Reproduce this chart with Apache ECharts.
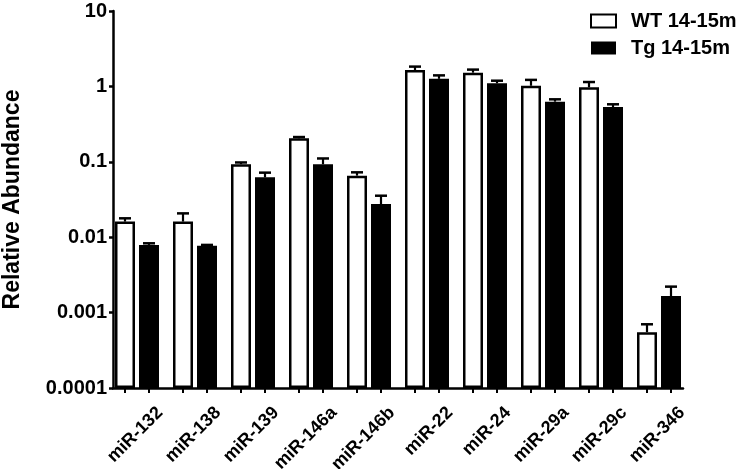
<!DOCTYPE html>
<html>
<head>
<meta charset="utf-8">
<script src="https://cdn.jsdelivr.net/npm/echarts@6/dist/echarts.min.js"></script>
<style>
html,body{margin:0;padding:0;background:#fff;}
#chart{width:740px;height:469px;}
</style>
</head>
<body>
<div id="chart"></div>
<script>
// ---- data ----
const categories = ['miR-132','miR-138','miR-139','miR-146a','miR-146b','miR-22','miR-24','miR-29a','miR-29c','miR-346'];
const seriesNames = ['WT 14-15m','Tg 14-15m'];
const wtMean = [0.0161, 0.0161, 0.093, 0.205, 0.0655, 1.65, 1.52, 1.02, 0.973, 0.00055];
const wtErr  = [0.0017, 0.0046, 0.005, 0.008, 0.007, 0.18, 0.15, 0.20, 0.17, 0.00015];
const tgMean = [0.0079, 0.0077, 0.0622, 0.0927, 0.0275, 1.26, 1.10, 0.627, 0.533, 0.00166];
const tgErr  = [0.0004, 0.0002, 0.0096, 0.018, 0.008, 0.14, 0.09, 0.047, 0.046, 0.00055];
const yTickLabels = ['0.0001','0.001','0.01','0.1','1','10'];
const yTitle = 'Relative Abundance';

// ---- helpers ----
const LOG_MIN = -4;
const toAxis = v => Math.log10(v) - LOG_MIN;
const FONT = "'Liberation Sans', Arial, sans-serif";

function errRenderer(offset) {
  return function (params, api) {
    const i = api.value(0);
    const base = api.coord([i, api.value(1)]);
    const top = api.coord([i, api.value(2)]);
    const bottom = api.coord([i, 0]);
    const x = base[0] + offset;
    return {
      type: 'group',
      children: [
        {type: 'line', shape: {x1: x, y1: base[1], x2: x, y2: top[1]}, style: {stroke: '#000', lineWidth: 2.2}},
        {type: 'line', shape: {x1: x - 6, y1: top[1], x2: x + 6, y2: top[1]}, style: {stroke: '#000', lineWidth: 2.5}},
        {type: 'line', shape: {x1: x, y1: bottom[1], x2: x, y2: bottom[1] + 5}, style: {stroke: '#000', lineWidth: 2}}
      ]
    };
  };
}

const chart = echarts.init(document.getElementById('chart'), null, {renderer: 'canvas'});
const option = {
  animation: false,
  backgroundColor: '#fff',
  textStyle: {fontFamily: FONT},
  legend: {
    orient: 'vertical', left: 585, top: 6,
    itemWidth: 25, itemHeight: 13, itemGap: 7,
    icon: 'rect',
    data: seriesNames,
    textStyle: {fontSize: 20, fontWeight: 'bold', color: '#000', fontFamily: FONT, padding: [0, 0, 0, 10]}
  },
  grid: [
    {left: 113, right: 57, top: 11, bottom: 81, outerBoundsMode: 'none', containLabel: false},
    {left: 108, right: 52, top: 11, bottom: 81, outerBoundsMode: 'none', containLabel: false},
    {left: 131, right: 29, top: 11, bottom: 81, outerBoundsMode: 'none', containLabel: false}
  ],
  xAxis: [
    {gridIndex: 0, type: 'category', data: categories,
     axisLine: {lineStyle: {color: '#000', width: 2.5}}, axisTick: {show: false}, axisLabel: {show: false}},
    {gridIndex: 1, type: 'category', data: categories, show: false},
    {gridIndex: 2, type: 'category', data: categories,
     axisLine: {show: false}, axisTick: {show: false},
     axisLabel: {interval: 0, rotate: 45, margin: 22, fontSize: 18, fontWeight: 'bold', color: '#000', fontFamily: FONT}}
  ],
  yAxis: [
    {gridIndex: 0, type: 'value', min: 0, max: 5, interval: 1,
     axisLine: {show: true, lineStyle: {color: '#000', width: 2.5}},
     axisTick: {show: true, length: 4, lineStyle: {color: '#000', width: 2.5}},
     splitLine: {show: false},
     axisLabel: {margin: 6, fontSize: 20, fontWeight: 'bold', color: '#000', fontFamily: FONT,
                 formatter: v => yTickLabels[Math.round(v)]},
     name: yTitle, nameLocation: 'middle', nameGap: 89, nameRotate: 90,
     nameTextStyle: {fontSize: 23, fontWeight: 'bold', color: '#000', fontFamily: FONT}},
    {gridIndex: 1, type: 'value', min: 0, max: 5, show: false},
    {gridIndex: 2, type: 'value', min: 0, max: 5, show: false}
  ],
  series: [
    {name: seriesNames[0], type: 'bar', xAxisIndex: 1, yAxisIndex: 1,
     barWidth: 20, barGap: '20%',
     itemStyle: {color: '#fff', borderColor: '#000', borderWidth: 2.5},
     data: wtMean.map(toAxis)},
    {name: seriesNames[1], type: 'bar', xAxisIndex: 1, yAxisIndex: 1,
     barWidth: 20, barGap: '20%',
     itemStyle: {color: '#000', borderColor: '#000', borderWidth: 0},
     data: tgMean.map(toAxis)},
    {name: 'WT err', type: 'custom', xAxisIndex: 1, yAxisIndex: 1, clip: false, z: 5,
     renderItem: errRenderer(-12), encode: {x: 0, y: [1, 2]},
     data: wtMean.map((m, i) => [i, toAxis(m), toAxis(m + wtErr[i])])},
    {name: 'Tg err', type: 'custom', xAxisIndex: 1, yAxisIndex: 1, clip: false, z: 5,
     renderItem: errRenderer(12), encode: {x: 0, y: [1, 2]},
     data: tgMean.map((m, i) => [i, toAxis(m), toAxis(m + tgErr[i])])}
  ]
};
chart.setOption(option);
</script>
</body>
</html>
